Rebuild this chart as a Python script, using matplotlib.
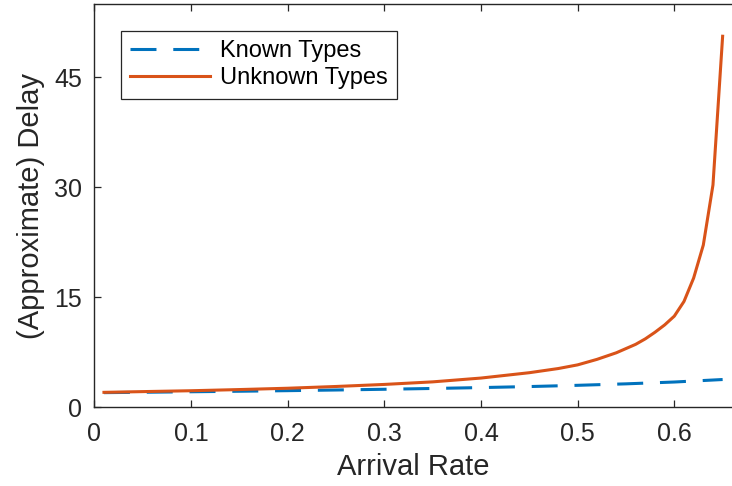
import matplotlib
matplotlib.use("Agg")
import matplotlib.pyplot as plt

# values
known_rate = [0.01, 0.05, 0.10, 0.15, 0.20, 0.25, 0.30, 0.35, 0.40, 0.45, 0.50, 0.55, 0.60, 0.65]
known_delay = [1.96, 2.01, 2.08, 2.15, 2.23, 2.32, 2.42, 2.53, 2.65, 2.79, 2.96, 3.16, 3.41, 3.75]

unknown_rate = [0.01, 0.05, 0.10, 0.15, 0.20, 0.25, 0.30, 0.35, 0.40, 0.45, 0.48, 0.50,
                0.52, 0.54, 0.56, 0.57, 0.58, 0.59, 0.60, 0.61, 0.62, 0.63, 0.64, 0.65]
unknown_delay = [2.0, 2.1, 2.22, 2.38, 2.56, 2.8, 3.08, 3.43, 3.95, 4.68, 5.25, 5.75,
                 6.5, 7.4, 8.55, 9.3, 10.2, 11.2, 12.4, 14.4, 17.6, 22.1, 30.3, 50.6]

x_ticks = [0, 0.1, 0.2, 0.3, 0.4, 0.5, 0.6]
x_tick_labels = ["0", "0.1", "0.2", "0.3", "0.4", "0.5", "0.6"]
y_ticks = [0, 15, 30, 45]

plt.rcParams["font.family"] = ["Liberation Sans", "DejaVu Sans"]
dark = "#262626"

W, H = 732, 486
fig = plt.figure(figsize=(W / 100, H / 100), dpi=100)
# axes box in pixels: left 94, right ~732 (cut off), top 4, bottom 407
ax = fig.add_axes([94.3 / W, 1 - 407 / H, (732.3 - 94.3) / W, (407 - 4) / H])

ax.plot(known_rate, known_delay, color="#0072BD", linewidth=2.2,
        dashes=(8.5, 5.5), label="Known Types")
ax.plot(unknown_rate, unknown_delay, color="#D95319", linewidth=2.2,
        label="Unknown Types")

ax.set_xlim(0, 0.66)
ax.set_ylim(0, 55)
ax.set_xticks(x_ticks)
ax.set_xticklabels(x_tick_labels)
ax.set_yticks(y_ticks)

for s in ax.spines.values():
    s.set_color(dark)
    s.set_linewidth(1.0)
# the right edge of the box falls just outside the image
ax.spines["right"].set_visible(False)

ax.tick_params(direction="in", length=5, width=0.9, color=dark, labelcolor=dark,
               labelsize=18, top=True, right=False)
ax.tick_params(axis="x", pad=11)
ax.tick_params(axis="y", pad=9)

ax.set_xlabel("Arrival Rate", fontsize=21, color=dark)
ax.set_ylabel("(Approximate) Delay", fontsize=21, color=dark)
ax.xaxis.set_label_coords(0.5, (407 - 453) / 403)
ax.yaxis.set_label_coords((45 - 94.3) / 638, 0.5)

leg = ax.legend(loc="upper left", bbox_to_anchor=((120.7 - 94.3) / 638, (407 - 31) / 403),
                borderaxespad=0, fontsize=17, handlelength=3.4, handletextpad=0.4,
                labelspacing=0.2, borderpad=0.4, fancybox=False, framealpha=1)
leg.get_frame().set_edgecolor(dark)
leg.get_frame().set_linewidth(0.9)

fig.savefig("out.png", dpi=100)
